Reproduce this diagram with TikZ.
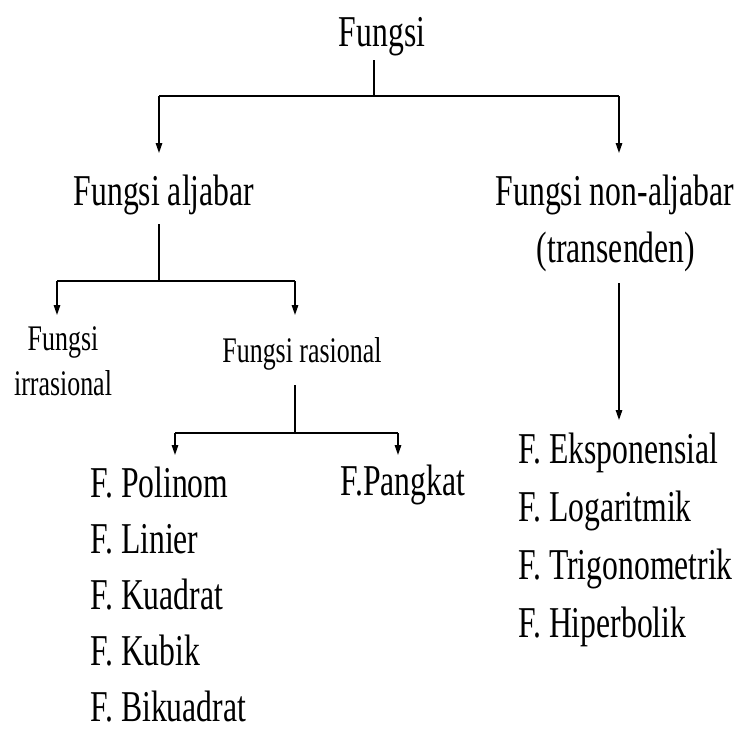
\documentclass[tikz,border=0pt]{standalone}
\usepackage{fontspec}
\setmainfont{Liberation Serif}[FakeStretch=0.72]
\usetikzlibrary{arrows.meta}
\begin{document}
\begin{tikzpicture}[x=1pt,y=-1pt,
  big/.style={font=\fontsize{44}{50}\selectfont, inner sep=0pt, anchor=base},
  bigl/.style={big, anchor=base west},
  small/.style={font=\fontsize{36}{43}\selectfont, inner sep=0pt, anchor=base},
  ln/.style={line width=1.4pt},
  arr/.style={ln, -{Triangle[length=10pt,width=6.5pt]}}]
\useasboundingbox (0,0) rectangle (738,732);
% texts
\node[big] (root) at (382,46) {Fungsi};
\node[big] (alj) at (164,205) {Fungsi aljabar};
\node[big] (nonalj) at (615,205) {Fungsi non-aljabar};
\node[big] (trans) at (616,262) {(transenden)};
\node[small] (irr1) at (63,350) {Fungsi};
\node[small] (irr2) at (63,395) {irrasional};
\node[small] (ras) at (302,362) {Fungsi rasional};
\node[bigl] (pol) at (90,497) {F. Polinom};
\node[bigl] (lin) at (90,553) {F. Linier};
\node[bigl] (kua) at (90,609) {F. Kuadrat};
\node[bigl] (kub) at (90,665) {F. Kubik};
\node[bigl] (bik) at (90,721) {F. Bikuadrat};
\node[bigl] (pang) at (340,495) {F.Pangkat};
\node[bigl] (eks) at (518,463) {F. Eksponensial};
\node[bigl] (log) at (518,521) {F. Logaritmik};
\node[bigl] (tri) at (518,579) {F. Trigonometrik};
\node[bigl] (hip) at (518,637) {F. Hiperbolik};
% connector points
\coordinate (r0) at (374,60);
\coordinate (j1) at (374,96);
\coordinate (j1l) at (159,96);
\coordinate (j1r) at (619,96);
\coordinate (aljtip) at (159,153);
\coordinate (nontip) at (619,153);
\coordinate (a0) at (159,224);
\coordinate (j2) at (159,281);
\coordinate (j2l) at (57,281);
\coordinate (j2r) at (295,281);
\coordinate (irrtip) at (57,315);
\coordinate (rastip) at (295,315);
\coordinate (s0) at (295,385);
\coordinate (j3) at (295,433);
\coordinate (j3l) at (175,433);
\coordinate (j3r) at (398,433);
\coordinate (poltip) at (175,455);
\coordinate (pangtip) at (398,455);
\coordinate (t0) at (619,283);
\coordinate (ekstip) at (619,420);
% connectors
\draw[ln] (r0) -- (j1);
\draw[ln] (j1l) -- (j1r);
\draw[arr] (j1l) -- (aljtip);
\draw[arr] (j1r) -- (nontip);
\draw[ln] (a0) -- (j2);
\draw[ln] (j2l) -- (j2r);
\draw[arr] (j2l) -- (irrtip);
\draw[arr] (j2r) -- (rastip);
\draw[ln] (s0) -- (j3);
\draw[ln] (j3l) -- (j3r);
\draw[arr] (j3l) -- (poltip);
\draw[arr] (j3r) -- (pangtip);
\draw[arr] (t0) -- (ekstip);
\end{tikzpicture}
\end{document}
